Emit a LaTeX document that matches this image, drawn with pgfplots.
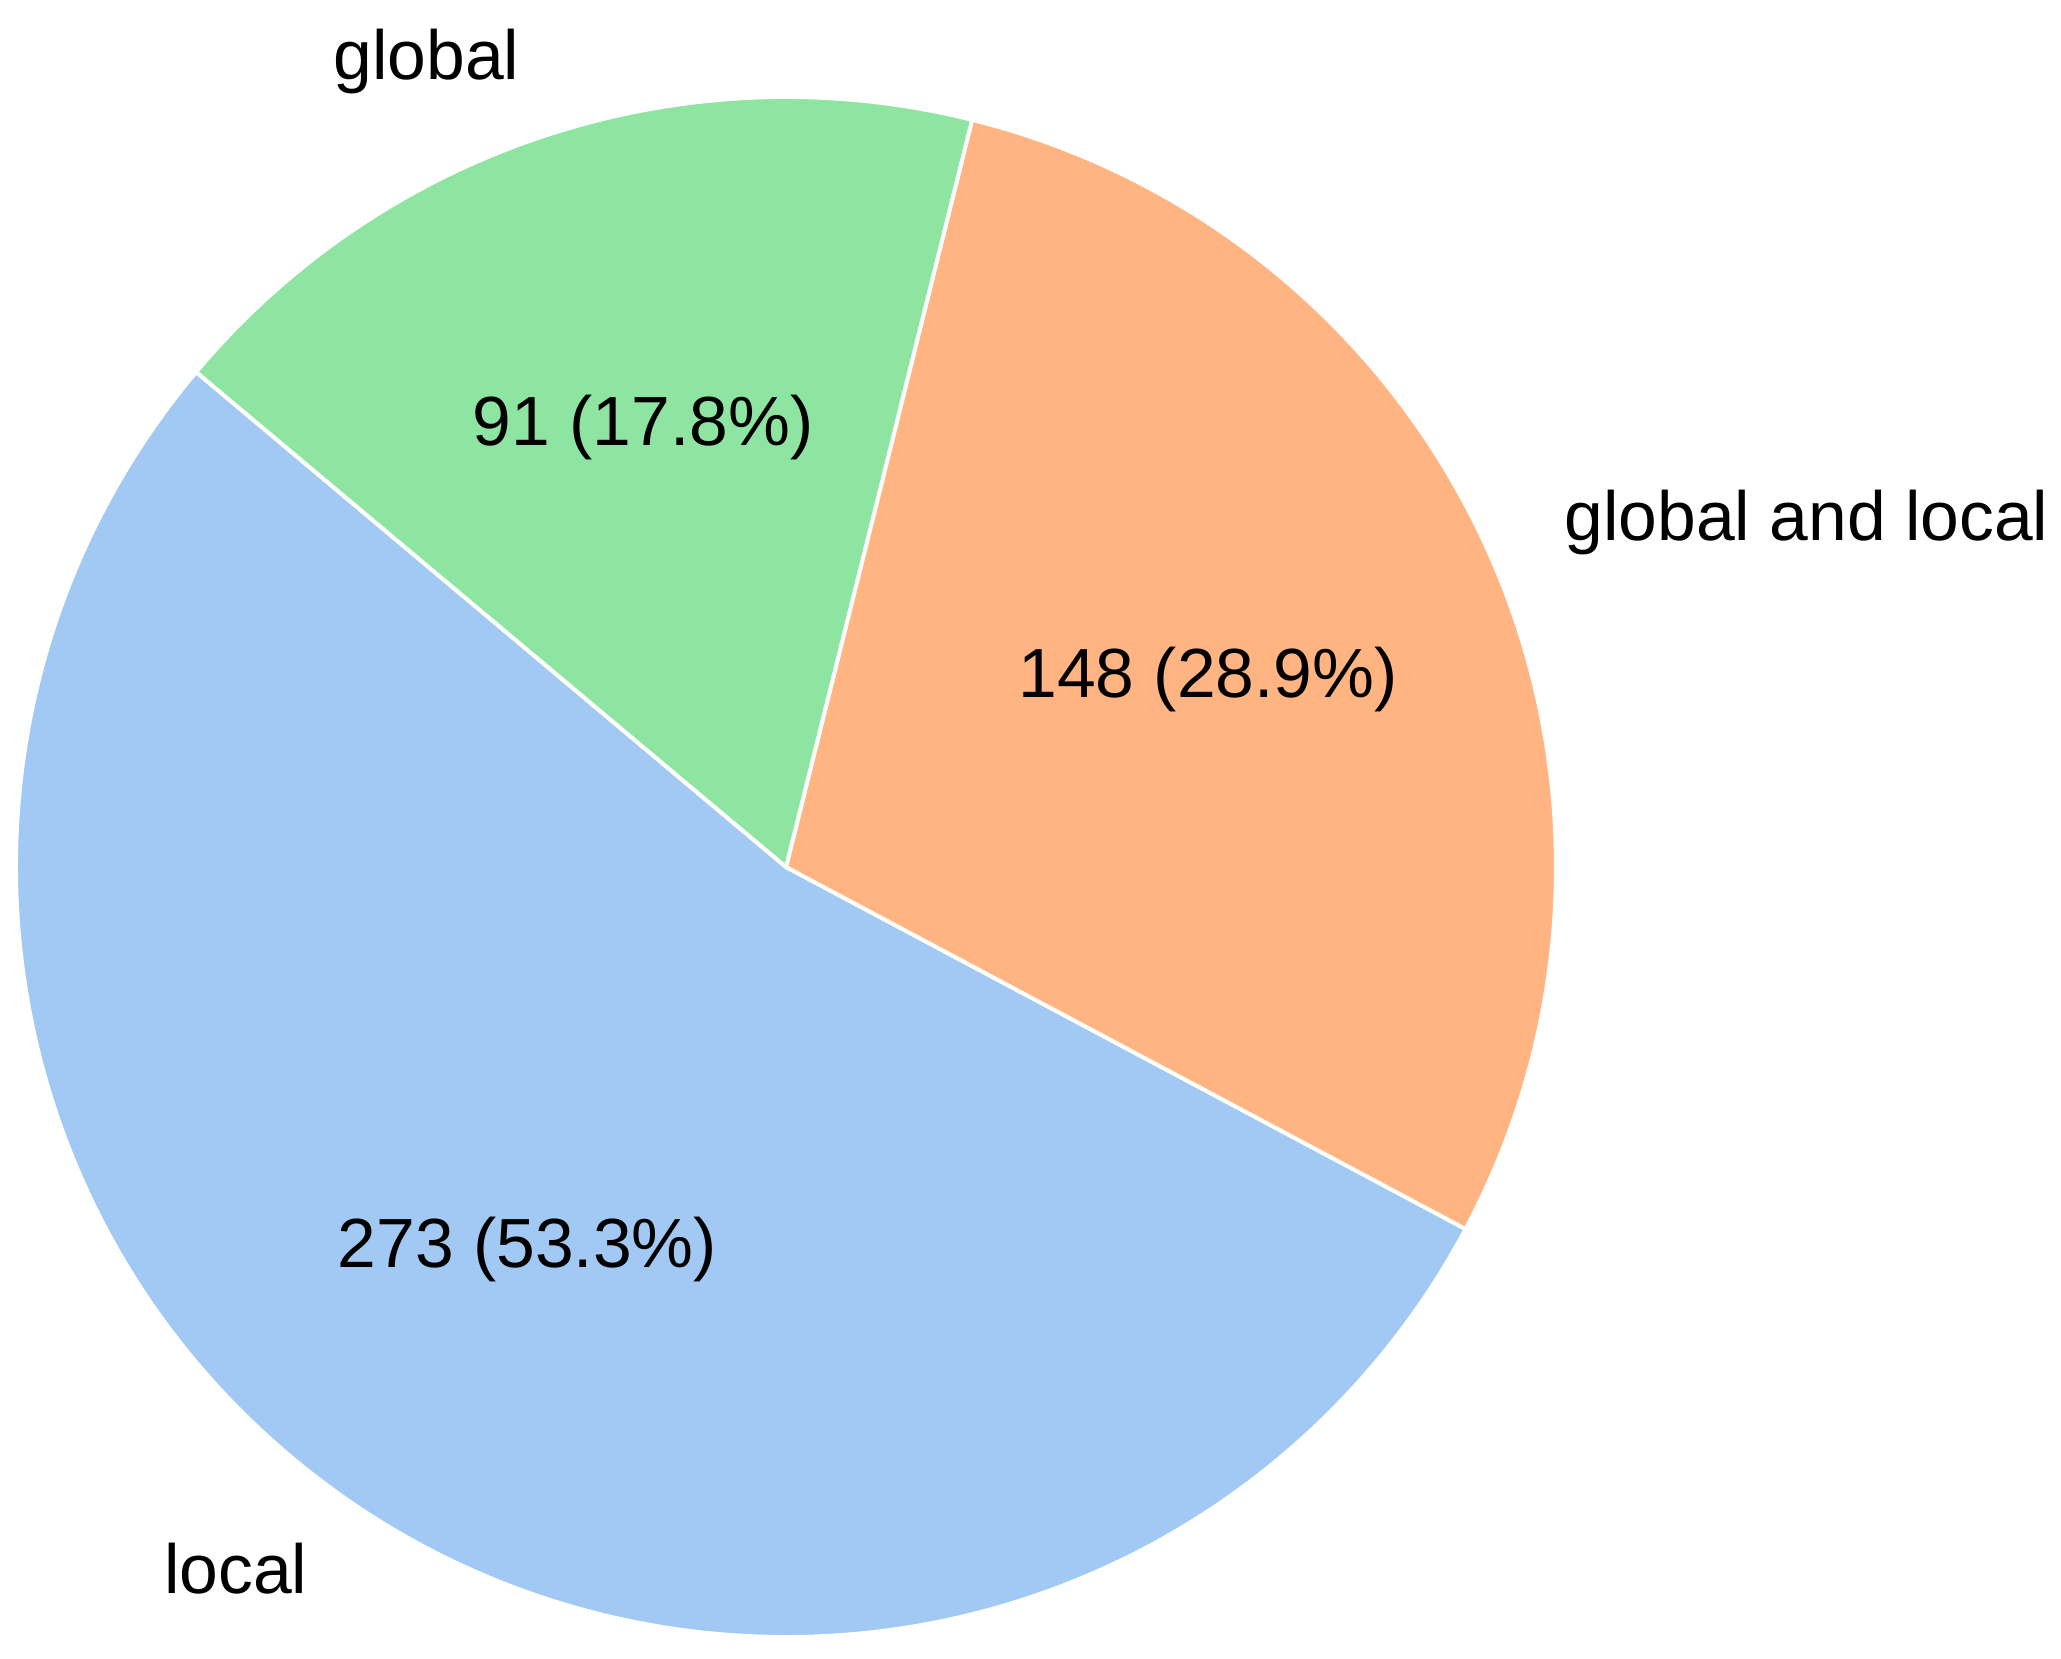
\documentclass[border=0pt]{standalone}
\usepackage{pgfplots}
\usepackage{pgfplotstable}
\pgfplotsset{compat=1.18}
\usepackage{fontspec}
\setmainfont{Liberation Sans}
\definecolor{pblue}{HTML}{A1C9F4}
\definecolor{porange}{HTML}{FFB482}
\definecolor{pgreen}{HTML}{8DE5A1}
\definecolor{txt}{HTML}{000000}

\pgfplotstableread{
label value
local 273
{global and local} 148
global 91
}\piedata

\begin{document}%
\begin{tikzpicture}[font=\fontsize{17.4}{20}\selectfont]
\pgfplotstablegetelem{0}{value}\of\piedata \global\let\vA\pgfplotsretval
\pgfplotstablegetelem{1}{value}\of\piedata \global\let\vB\pgfplotsretval
\pgfplotstablegetelem{2}{value}\of\piedata \global\let\vC\pgfplotsretval
\pgfmathsetmacro\total{\vA+\vB+\vC}
\pgfmathsetmacro\fA{\vA/\total}
\pgfmathsetmacro\fB{\vB/\total}
\pgfmathsetmacro\fC{\vC/\total}
\pgfmathsetmacro\aS{140}
\pgfmathsetmacro\aA{\aS+360*\fA}
\pgfmathsetmacro\aB{\aA+360*\fB}
\pgfmathsetmacro\aC{\aB+360*\fC}
\pgfmathsetmacro\mA{(\aS+\aA)/2}
\pgfmathsetmacro\mB{(\aA+\aB)/2}
\pgfmathsetmacro\mC{(\aB+\aC)/2}
\pgfmathsetmacro\pA{100*\fA}
\pgfmathsetmacro\pB{100*\fB}
\pgfmathsetmacro\pC{100*\fC}
\def\R{192.5pt}% 770 px
\def\Rl{211.75pt}% 1.1 R
\def\Rp{115.5pt}% 0.6 R
\begin{axis}[
  hide axis, scale only axis,
  xtick=\empty, ytick=\empty,
  width=515.25pt, height=414.5pt,
  xmin=0, xmax=2061, ymin=0, ymax=1658,
  clip=false,
]
\coordinate (bl) at (axis cs:0,0);
\coordinate (tr) at (axis cs:2061,1658);
\fill[pblue, draw=white, line width=1pt] (axis cs:786,791) -- ++(\aS:\R) arc[start angle=\aS, end angle=\aA, radius=\R] -- cycle;
\fill[porange, draw=white, line width=1pt] (axis cs:786,791) -- ++(\aA:\R) arc[start angle=\aA, end angle=\aB, radius=\R] -- cycle;
\fill[pgreen, draw=white, line width=1pt] (axis cs:786,791) -- ++(\aB:\R) arc[start angle=\aB, end angle=\aC, radius=\R] -- cycle;
\path (axis cs:786,791) ++(\mA:\Rl) node[anchor=east, inner sep=1pt, text=txt] {local};
\path (axis cs:786,791) ++(\mB:\Rl) node[anchor=west, inner sep=1pt, text=txt] {global and local};
\path (axis cs:786,791) ++(\mC:\Rl) node[anchor=east, inner sep=1pt, text=txt] {global};
\path (axis cs:786,791) ++(\mA:\Rp) node[text=txt] {\vA\ (\pgfmathprintnumber[fixed,fixed zerofill,precision=1,assume math mode=true]{\pA}\%)};
\path (axis cs:786,791) ++(\mB:\Rp) node[text=txt] {\vB\ (\pgfmathprintnumber[fixed,fixed zerofill,precision=1,assume math mode=true]{\pB}\%)};
\path (axis cs:786,791) ++(\mC:\Rp) node[text=txt] {\vC\ (\pgfmathprintnumber[fixed,fixed zerofill,precision=1,assume math mode=true]{\pC}\%)};
\end{axis}
\pgfresetboundingbox
\useasboundingbox (bl) rectangle (tr);
\end{tikzpicture}%
\end{document}
